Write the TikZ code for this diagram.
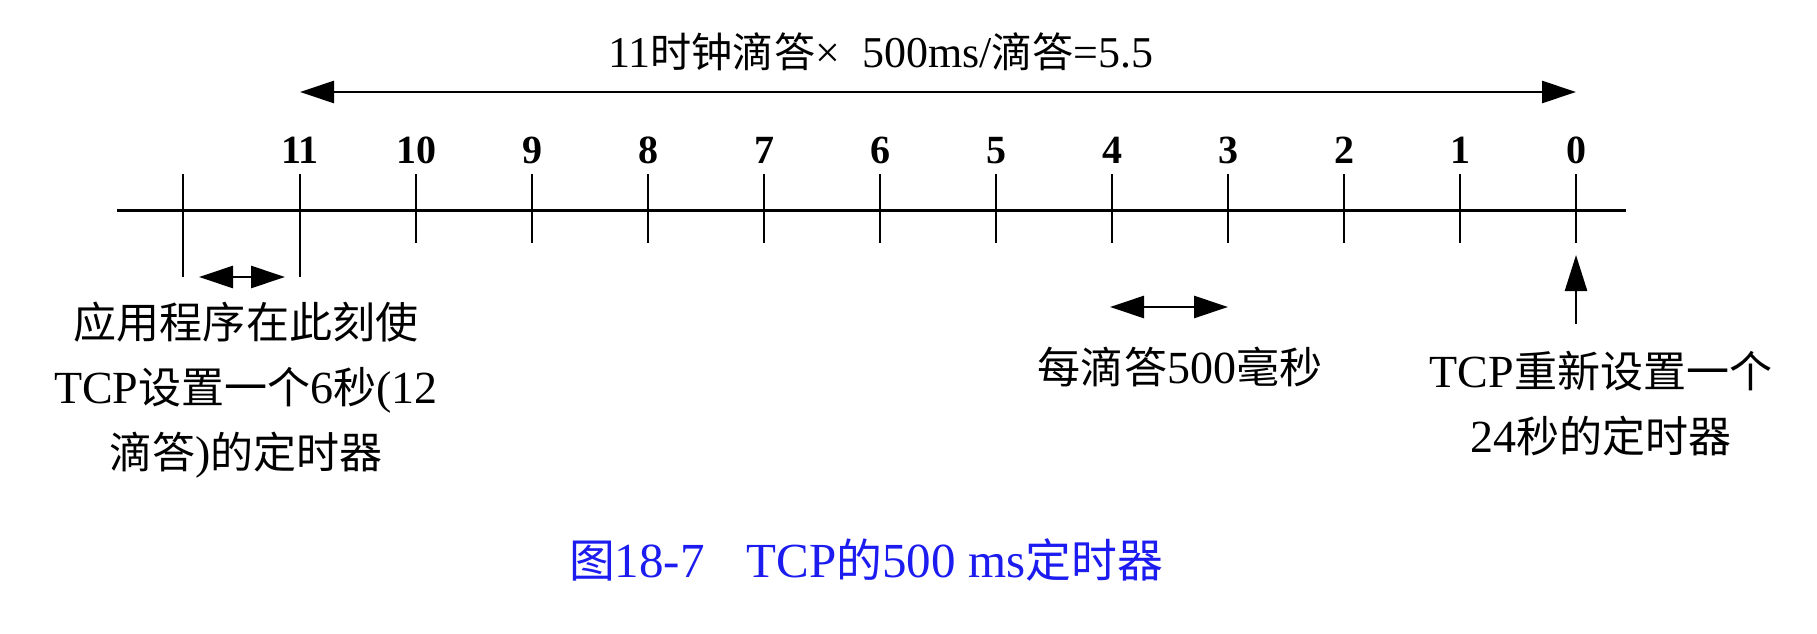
\documentclass[tikz,border=0pt]{standalone}
\usepackage{fontspec}
\setmainfont{Liberation Serif}
\newfontfamily\cjk[Scale=0.935]{Noto Sans CJK SC}
\newcommand{\zh}[1]{{\cjk #1}}
\usetikzlibrary{arrows.meta}
\definecolor{capblue}{RGB}{28,28,240}
\begin{document}
\begin{tikzpicture}[x=1pt,y=-1pt,
  axisline/.style={line width=3pt},
  tickline/.style={line width=2.6pt},
  bigarrow/.style={line width=2.6pt,{Triangle[length=34pt,width=22pt]}-{Triangle[length=34pt,width=22pt]}},
  uparrow/.style={line width=2.6pt,-{Triangle[length=36pt,width=22pt]}},
  num/.style={font=\fontsize{40}{44}\selectfont\bfseries,anchor=base,inner sep=0pt},
  body/.style={font=\fontsize{46}{65}\selectfont,align=center,inner sep=0pt},
  caption/.style={font=\fontsize{49}{56}\selectfont,text=capblue,anchor=base,inner sep=0pt}]
\useasboundingbox (0,0) rectangle (1817,634);
% axis
\coordinate (axL) at (117,210);
\coordinate (axR) at (1626,210);
\draw[axisline] (axL) -- (axR);
% ticks
\foreach \k in {0,...,11}{
  \coordinate (t\k) at ({1576-116*\k},174);
  \coordinate (b\k) at ({1576-116*\k},243);
  \node[num] (n\k) at ({1576-116*\k},163) {\k};
}
\coordinate (b11) at (300,277);
\foreach \k in {0,...,11}{ \draw[tickline] (t\k) -- (b\k); }
\coordinate (tx) at (183,174);
\coordinate (bx) at (183,277);
\draw[tickline] (tx) -- (bx);
% top arrow
\coordinate (topL) at (300,92);
\coordinate (topR) at (1576,92);
\draw[bigarrow] (topL) -- (topR);
\node[anchor=base,inner sep=0pt,font=\fontsize{44}{50}\selectfont] (toplabel) at (881,67)
  {11\zh{时钟滴答}× \ 500ms/\zh{滴答}=5.5};
% small left arrow
\coordinate (saL) at (199,277);
\coordinate (saR) at (285,277);
\draw[bigarrow] (saL) -- (saR);
% per-tick arrow
\coordinate (paL) at (1110,307);
\coordinate (paR) at (1228,307);
\draw[bigarrow] (paL) -- (paR);
\node[body,anchor=base] (per) at (1180,383) {\zh{每滴答}500\zh{毫秒}};
% up arrow
\coordinate (upB) at (1576,324);
\coordinate (upT) at (1576,255);
\draw[uparrow] (upB) -- (upT);
% left text
\node[body] (lefttext) at (246,390)
  {\zh{应用程序在此刻使}\\TCP\zh{设置一个}6\zh{秒}(12\\\zh{滴答})\zh{的定时器}};
% right text
\node[body] (righttext) at (1601,404)
  {TCP\zh{重新设置一个}\\24\zh{秒的定时器}};
% caption
\node[caption] (cap) at (866,577) {\zh{图}18-7\hspace{42pt}TCP\zh{的}500 ms\zh{定时器}};
\end{tikzpicture}
\end{document}
